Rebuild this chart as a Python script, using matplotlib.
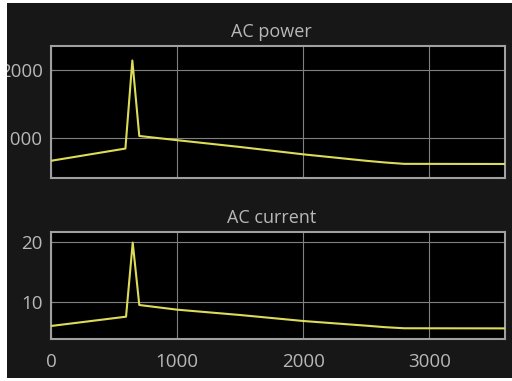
import matplotlib
matplotlib.use("Agg")
import matplotlib.pyplot as plt
from matplotlib.patches import Rectangle

# ---- data ----
time_power = [0, 590, 645, 700, 1000, 1500, 2000, 2500, 2650, 2800, 3600]
ac_power = [665, 845, 2140, 1030, 968, 868, 760, 665, 640, 620, 618]

time_current = [0, 595, 648, 700, 1000, 1500, 2000, 2500, 2650, 2800, 3600]
ac_current = [6.0, 7.55, 19.9, 9.5, 8.72, 7.83, 6.83, 6.05, 5.8, 5.62, 5.6]

xticks = [0, 1000, 2000, 3000]
power_yticks = [1000, 2000]
current_yticks = [10, 20]
titles = ["AC power", "AC current"]

# ---- style ----
W, H = 512, 381
BG = "#171717"
TXT = "#b8b8b8"
GRID = "#808080"
SPINE = "#a0a0a0"
LINE = "#dcdc58"
FONT = "Open Sans"
FS = 13.5

fig = plt.figure(figsize=(W / 100, H / 100), dpi=100, facecolor=BG)

def px_axes(left, top, right, bottom):
    return [left / W, 1 - bottom / H, (right - left) / W, (bottom - top) / H]

ax1 = fig.add_axes(px_axes(51, 46, 505, 178))
ax2 = fig.add_axes(px_axes(51, 232, 505, 339))

for ax, t, y, yt, ylim, title, showx in [
    (ax1, time_power, ac_power, power_yticks, (412, 2353), titles[0], False),
    (ax2, time_current, ac_current, current_yticks, (3.83, 21.67), titles[1], True),
]:
    ax.set_facecolor("black")
    ax.plot(t, y, color=LINE, lw=1.5, zorder=3)
    ax.set_xlim(0, 3600)
    ax.set_ylim(*ylim)
    ax.set_xticks(xticks)
    ax.set_yticks(yt)
    ax.set_yticklabels([str(v) for v in yt], fontfamily=FONT, fontsize=FS, color=TXT)
    if showx:
        ax.set_xticklabels([str(v) for v in xticks], fontfamily=FONT, fontsize=FS, color=TXT)
    else:
        ax.set_xticklabels([])
    ax.grid(True, color=GRID, lw=0.8)
    ax.tick_params(axis="both", direction="in", length=3, color=GRID)
    ax.tick_params(axis="y", pad=6)
    ax.tick_params(axis="x", pad=10)
    for s in ax.spines.values():
        s.set_color(SPINE)
        s.set_linewidth(1.5)
    dy = 9 / (ax.get_position().height * H)
    ax.text(0.486, 1 + dy, title, transform=ax.transAxes, ha="center", va="baseline",
            fontfamily=FONT, fontsize=FS - 0.5, color=TXT)

# white frame strips (screenshot crop edges)
for (x0, y0, x1, y1) in [(0, 0, 7, H), (0, 0, W, 3), (0, 378, W, H)]:
    fig.add_artist(Rectangle((x0 / W, 1 - y1 / H), (x1 - x0) / W, (y1 - y0) / H,
                             transform=fig.transFigure, facecolor="white",
                             edgecolor="none", zorder=10))

fig.savefig("out.png", dpi=100, facecolor=BG)
